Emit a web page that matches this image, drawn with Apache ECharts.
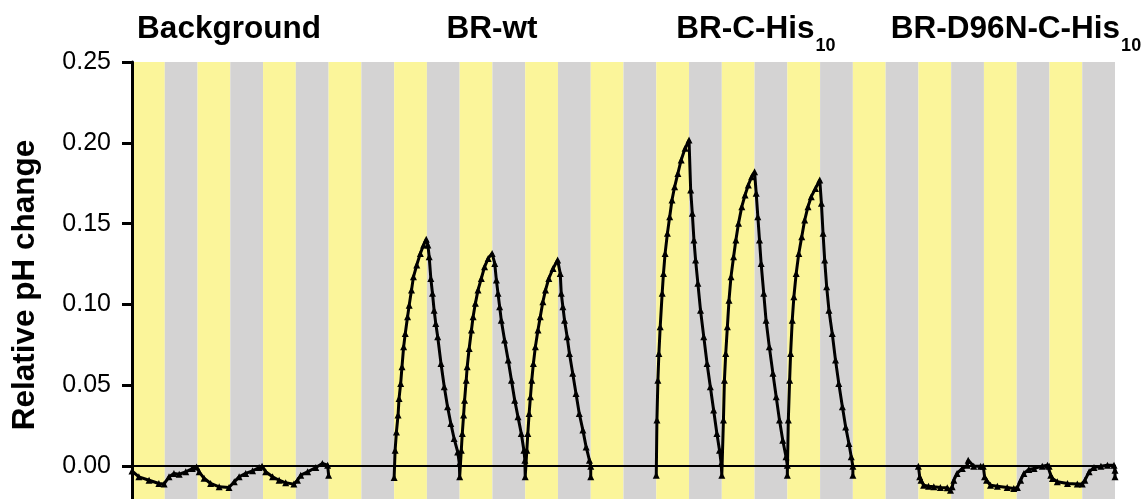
<!DOCTYPE html>
<html>
<head>
<meta charset="utf-8">
<script src="https://cdn.jsdelivr.net/npm/echarts@6/dist/echarts.min.js"></script>
<style>
html,body{margin:0;padding:0;background:#fff;}
#chart{width:1145px;height:499px;}
</style>
</head>
<body>
<div id="chart"></div>
<script>
// ---- data ----
// stripe pattern (light = yellow, dark = gray), one entry per time slot
const stripes = ['Y','G','Y','G','Y','G','Y','G','Y','G','Y','G','Y','G','Y','G',
                 'Y','G','Y','G','Y','G','Y','G','Y','G','Y','G','Y','G'];
const groupTitles = ['{m|Background}', '{m|BR-wt}', '{m|BR-C-His}{s|10}', '{m|BR-D96N-C-His}{s|10}'];
const yTicks = [-0.05, 0.00, 0.05, 0.10, 0.15, 0.20, 0.25];
const yTitle = 'Relative pH change';

const backgroundData = [
  [0.0,-0.003],[0.21,-0.0066],[0.52,-0.0087],[0.82,-0.0107],[0.98,-0.011],[1.13,-0.0066],[1.28,-0.0045],[1.44,-0.005],[1.64,-0.0035],[1.84,-0.0015],[1.97,-0.0005],
  [2.05,-0.0035],[2.2,-0.0075],[2.4,-0.0107],[2.66,-0.0128],[2.96,-0.0132],[3.12,-0.0097],[3.27,-0.0066],[3.47,-0.0045],[3.68,-0.0029],[3.88,-0.0008],[3.97,0],
  [4.08,-0.0035],[4.29,-0.0066],[4.49,-0.0087],[4.69,-0.0103],[4.94,-0.0111],[5.05,-0.0087],[5.15,-0.0056],[5.36,-0.0035],[5.61,-0.0008],[5.81,0.0017],[5.97,0.0006],[6.0,-0.0056]
];
const brWtData = [
  [8.0,-0.007],[8.03,0.0099],[8.07,0.0212],[8.12,0.0316],[8.15,0.0419],[8.20,0.0512],[8.24,0.0615],[8.29,0.0738],[8.34,0.0821],[8.41,0.0924],[8.46,0.0996],[8.53,0.1089],[8.59,0.1171],[8.69,0.1244],[8.80,0.1316],[8.90,0.1368],[8.98,0.1403],
  [9.03,0.1368],[9.07,0.1295],[9.12,0.1161],[9.17,0.1069],[9.22,0.0965],[9.27,0.0883],[9.33,0.08],[9.43,0.0635],[9.53,0.0491],[9.63,0.0367],[9.73,0.0264],[9.83,0.0171],[9.94,0.0088],[9.99,0.0017],
  [10.0,-0.0066],[10.05,0.0099],[10.08,0.0202],[10.12,0.0316],[10.15,0.0408],[10.2,0.0532],[10.23,0.0615],[10.29,0.0728],[10.36,0.0842],[10.41,0.0924],[10.48,0.1007],[10.56,0.1089],[10.66,0.1161],[10.76,0.1233],[10.87,0.1285],[10.99,0.1316],
  [11.07,0.1254],[11.12,0.1151],[11.17,0.1069],[11.22,0.0986],[11.27,0.0903],[11.37,0.078],[11.48,0.0656],[11.58,0.0532],[11.68,0.0408],[11.78,0.0305],[11.88,0.0202],[11.96,0.0099],[11.99,0.0037],
  [12.0,-0.0066],[12.05,0.0099],[12.08,0.0202],[12.12,0.0326],[12.16,0.0429],[12.2,0.0532],[12.25,0.0635],[12.31,0.0738],[12.39,0.0842],[12.46,0.0924],[12.54,0.1017],[12.62,0.1089],[12.72,0.1161],[12.85,0.1223],[12.99,0.1275],
  [13.07,0.1192],[13.1,0.1069],[13.15,0.0986],[13.2,0.0903],[13.28,0.08],[13.35,0.0697],[13.45,0.0574],[13.55,0.045],[13.65,0.0326],[13.76,0.0223],[13.86,0.0119],[13.96,0.0037],[14.0,0.0],[14.0,-0.0066]
];
const brCHisData = [
  [16.0,-0.0056],[16.02,0.0285],[16.05,0.0532],[16.08,0.0697],[16.12,0.0862],[16.18,0.1069],[16.22,0.1192],[16.27,0.1316],[16.34,0.144],[16.41,0.1543],[16.48,0.1646],[16.56,0.1728],[16.66,0.1811],[16.76,0.1894],[16.88,0.1966],[17.0,0.2017],
  [17.05,0.1708],[17.1,0.1564],[17.15,0.1399],[17.2,0.1275],[17.27,0.1131],[17.35,0.0965],[17.45,0.08],[17.55,0.0635],[17.65,0.0491],[17.75,0.0347],[17.85,0.0202],[17.93,0.0099],[17.98,0.0017],
  [18.0,-0.0056],[18.05,0.0285],[18.08,0.0532],[18.12,0.0697],[18.17,0.0862],[18.22,0.1027],[18.28,0.1171],[18.36,0.1295],[18.43,0.1399],[18.51,0.1502],[18.61,0.1605],[18.71,0.1677],[18.81,0.1739],[18.91,0.179],[19.0,0.1821],
  [19.05,0.1688],[19.1,0.1543],[19.15,0.1399],[19.2,0.1254],[19.28,0.1069],[19.35,0.0903],[19.45,0.0738],[19.56,0.0574],[19.66,0.0429],[19.76,0.0285],[19.86,0.016],[19.96,0.0058],[20.0,0.0006],
  [20.0,-0.0056],[20.03,0.0285],[20.07,0.0532],[20.1,0.0697],[20.15,0.0903],[20.2,0.1048],[20.27,0.1192],[20.35,0.1316],[20.44,0.1419],[20.53,0.1522],[20.63,0.1605],[20.73,0.1667],[20.86,0.1718],[20.99,0.177],
  [21.04,0.1626],[21.09,0.144],[21.14,0.1275],[21.2,0.111],[21.27,0.0965],[21.37,0.0821],[21.47,0.0656],[21.57,0.0512],[21.68,0.0367],[21.78,0.0243],[21.88,0.014],[21.95,0.0058],[22.0,0.0],[22.0,-0.0056]
];
const brD96NData = [
  [24.0,0],[24.04,-0.0066],[24.08,-0.0087],[24.16,-0.0118],[24.31,-0.0124],[24.47,-0.0128],[24.67,-0.0132],[24.88,-0.0134],[24.98,-0.0149],[25.03,-0.0128],[25.08,-0.0087],[25.18,-0.0045],[25.34,-0.0014],[25.49,0.0006],[25.52,0.0037],[25.69,0],[25.9,0],[25.98,0],
  [26.02,-0.0066],[26.08,-0.0087],[26.2,-0.0118],[26.41,-0.0124],[26.71,-0.0132],[26.91,-0.0138],[27.02,-0.0132],[27.12,-0.0087],[27.22,-0.0045],[27.37,-0.002],[27.53,-0.0014],[27.78,0],[27.94,0.0006],[27.99,0],
  [28.04,-0.0056],[28.09,-0.0076],[28.24,-0.0097],[28.55,-0.0107],[28.85,-0.0111],[29.0,-0.0111],[29.08,-0.0087],[29.21,-0.0035],[29.36,-0.0008],[29.57,0],[29.77,0.0006],[29.97,0.0006],[30.0,-0.0025],[30.0,-0.0066]
];

// ---- styles ----
const FONT = 'Liberation Sans, Arial, Helvetica, sans-serif';
const YELLOW = '#FBF59A';
const GRAY = '#D4D3D3';
const titleCenters = [229, 492, 756, 1016];

const stripeAreas = stripes.map((s, i) => [
  { xAxis: i, itemStyle: { color: s === 'Y' ? YELLOW : GRAY } },
  { xAxis: i + 1 }
]);

const titleRich = {
  m: { fontSize: 31.5, fontWeight: 'bold', fontFamily: FONT, color: '#000', lineHeight: 36, verticalAlign: 'top' },
  s: { fontSize: 18, fontWeight: 'bold', fontFamily: FONT, color: '#000', lineHeight: 18, verticalAlign: 'top', padding: [24, 0, 0, 1] }
};

function lineSeries(name, data) {
  return {
    name: name, type: 'line', data: data,
    symbol: 'triangle', symbolSize: 7, showAllSymbol: true,
    lineStyle: { color: '#000', width: 3 },
    itemStyle: { color: '#000' },
    z: 3, silent: true
  };
}

const chart = echarts.init(document.getElementById('chart'), null, { renderer: 'canvas' });
chart.setOption({
  animation: false,
  backgroundColor: '#fff',
  title: groupTitles.map((t, i) => ({
    text: t, left: titleCenters[i], top: 13, textAlign: 'center', padding: 0,
    textStyle: { rich: titleRich }
  })),
  graphic: [{
    type: 'text', x: 25, y: 285, rotation: Math.PI / 2, silent: true,
    style: { text: yTitle, fontSize: 31.5, fontWeight: 'bold', fontFamily: FONT, fill: '#000', align: 'center', verticalAlign: 'middle' }
  }],
  grid: { left: 132, top: 62, width: 983, height: 485, containLabel: false, outerBoundsMode: 'none' },
  xAxis: {
    type: 'value', min: 0, max: stripes.length, z: 5,
    axisLine: { show: true, onZero: true, lineStyle: { color: '#000', width: 2 } },
    axisTick: { show: false }, axisLabel: { show: false }, splitLine: { show: false }
  },
  yAxis: {
    type: 'value', min: yTicks[0], max: yTicks[yTicks.length - 1], interval: 0.05, z: 6,
    axisLine: { show: true, onZero: false, lineStyle: { color: '#000', width: 3 } },
    axisTick: { show: true, inside: false, length: 10, lineStyle: { color: '#000', width: 3 } },
    axisLabel: { fontSize: 25, fontFamily: FONT, color: '#000', margin: 21, formatter: v => v.toFixed(2) },
    splitLine: { show: false }
  },
  series: [
    {
      name: 'stripes', type: 'line', data: [], silent: true, z: 1,
      markArea: { silent: true, data: stripeAreas }
    },
    lineSeries('Background', backgroundData),
    lineSeries('BR-wt', brWtData),
    lineSeries('BR-C-His10', brCHisData),
    lineSeries('BR-D96N-C-His10', brD96NData)
  ]
});
</script>
</body>
</html>
